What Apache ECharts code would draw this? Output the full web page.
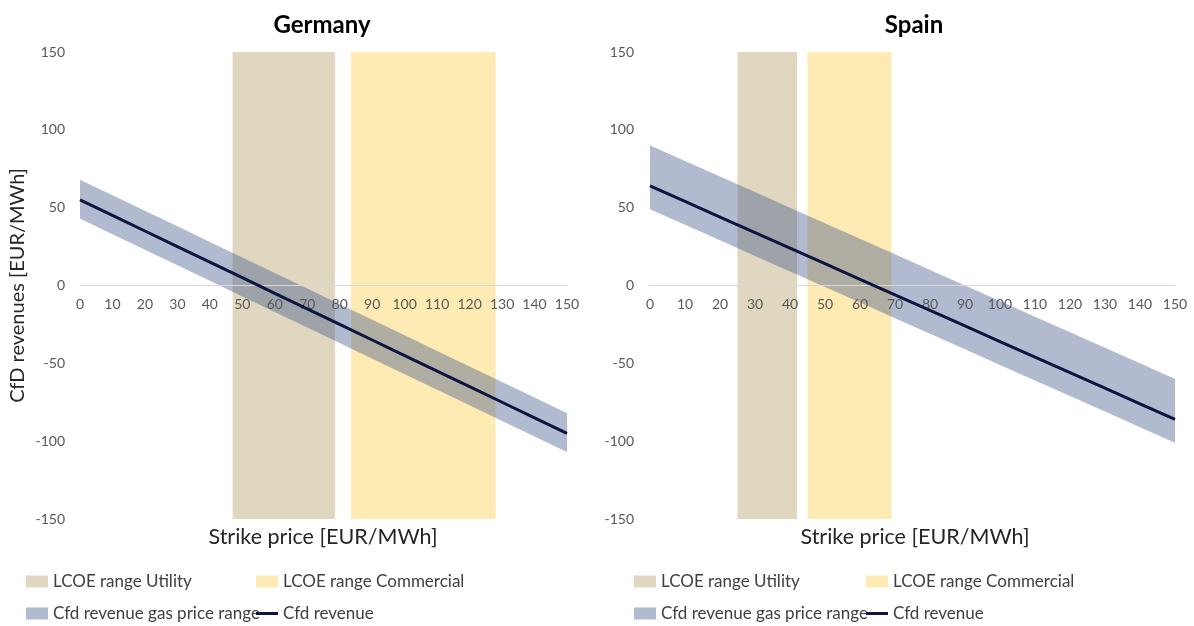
<!DOCTYPE html>
<html>
<head>
<meta charset="utf-8">
<script src="https://cdn.jsdelivr.net/npm/echarts@6/dist/echarts.min.js"></script>
<style>
  html, body { margin: 0; padding: 0; background: #ffffff; }
  #chart { width: 1194px; height: 626px; }
</style>
</head>
<body>
<div id="chart"></div>
<script>
// Strike prices (EUR/MWh) along the horizontal axis
const strikePrices = [0, 10, 20, 30, 40, 50, 60, 70, 80, 90, 100, 110, 120, 130, 140, 150];

// Germany: CfD revenue (EUR/MWh) and its gas-price range
const germanyRevenue     = [55, 45, 35, 25, 15, 5, -5, -15, -25, -35, -45, -55, -65, -75, -85, -95];
const germanyRevenueHigh = [68, 58, 48, 38, 28, 18, 8, -2, -12, -22, -32, -42, -52, -62, -72, -82];
const germanyRevenueLow  = [43, 33, 23, 13, 3, -7, -17, -27, -37, -47, -57, -67, -77, -87, -97, -107];

// Spain: CfD revenue (EUR/MWh) and its gas-price range
const spainRevenue     = [64, 54, 44, 34, 24, 14, 4, -6, -16, -26, -36, -46, -56, -66, -76, -86];
const spainRevenueHigh = [90, 80, 70, 60, 50, 40, 30, 20, 10, 0, -10, -20, -30, -40, -50, -60];
const spainRevenueLow  = [49, 39, 29, 19, 9, -1, -11, -21, -31, -41, -51, -61, -71, -81, -91, -101];

// LCOE ranges (strike price from / to)
const germanyUtilityRange    = [47, 78.5];
const germanyCommercialRange = [83.5, 128];
const spainUtilityRange      = [25, 42];
const spainCommercialRange   = [45, 69];

// Axis limits and tick steps
const xMin = 0, xMax = 150, xStep = 10;
const yMin = -150, yMax = 150, yStep = 50;

const panelTitles = ['Germany', 'Spain'];
const xAxisTitle = 'Strike price [EUR/MWh]';
const yAxisTitle = 'CfD revenues [EUR/MWh]';

const NAME_UTILITY = 'LCOE range Utility';
const NAME_COMMERCIAL = 'LCOE range Commercial';
const NAME_BAND = 'Cfd revenue gas price range';
const NAME_LINE = 'Cfd revenue';

const COLOR_UTILITY = '#dfd7c0';
const COLOR_COMMERCIAL = '#feebb3';
const COLOR_BAND = 'rgba(68, 90, 140, 0.42)';
const COLOR_LINE = '#0d1440';

const FONT = 'Lato, "Open Sans", sans-serif';

const GRID_TOP = 52, GRID_BOTTOM = 107, CHART_H = 626;
const grids = [
  { left: 80, right: 627, top: GRID_TOP, bottom: GRID_BOTTOM },
  { left: 650, right: 19, top: GRID_TOP, bottom: GRID_BOTTOM }
];
// Lift the strike-price axis from the bottom edge up to the zero line
const plotHeight = CHART_H - GRID_TOP - GRID_BOTTOM;
const zeroLift = plotHeight * (0 - yMin) / (yMax - yMin);

function xAxisFor(i) {
  return {
    type: 'value', gridIndex: i, min: xMin, max: xMax, interval: xStep,
    position: 'bottom', offset: -zeroLift,
    z: 2.5,
    axisLine: { onZero: false, lineStyle: { color: '#d9d9d9', width: 1 } },
    axisTick: { show: false },
    splitLine: { show: false },
    axisLabel: { color: '#595959', fontSize: 14, fontFamily: FONT, margin: 12 }
  };
}

function yAxisFor(i) {
  const axis = {
    type: 'value', gridIndex: i, min: yMin, max: yMax, interval: yStep,
    axisLine: { show: false },
    axisTick: { show: false },
    splitLine: { show: false },
    axisLabel: { color: '#595959', fontSize: 14, fontFamily: FONT, margin: i === 0 ? 15 : 16 }
  };
  if (i === 0) {
    axis.name = yAxisTitle;
    axis.nameLocation = 'middle';
    axis.nameRotate = 90;
    axis.nameGap = 52;
    axis.nameTextStyle = { color: '#262626', fontSize: 20, fontFamily: FONT };
  }
  return axis;
}

// Vertical shaded LCOE range spanning the full value axis
function lcoeSeries(i, name, range, color) {
  return {
    type: 'custom', name, xAxisIndex: i, yAxisIndex: i, z: 1,
    itemStyle: { color },
    data: [range],
    encode: { x: [0, 1] },
    renderItem(params, api) {
      const p0 = api.coord([api.value(0), yMax]);
      const p1 = api.coord([api.value(1), yMin]);
      return {
        type: 'rect',
        shape: { x: p0[0], y: p0[1], width: p1[0] - p0[0], height: p1[1] - p0[1] },
        style: { fill: color }
      };
    },
    silent: true
  };
}

// Filled band between the low and high revenue curves
function bandSeries(i, lows, highs) {
  return {
    type: 'custom', name: NAME_BAND, xAxisIndex: i, yAxisIndex: i, z: 2,
    itemStyle: { color: COLOR_BAND },
    data: strikePrices.map((s, k) => [s, lows[k], highs[k]]),
    encode: { x: 0, y: [1, 2] },
    renderItem(params, api) {
      if (params.dataIndex !== 0) return null;
      const pts = [];
      for (let k = 0; k < strikePrices.length; k++) pts.push(api.coord([strikePrices[k], highs[k]]));
      for (let k = strikePrices.length - 1; k >= 0; k--) pts.push(api.coord([strikePrices[k], lows[k]]));
      return { type: 'polygon', shape: { points: pts }, style: { fill: COLOR_BAND } };
    },
    silent: true
  };
}

function lineSeries(i, values) {
  return {
    type: 'line', name: NAME_LINE, xAxisIndex: i, yAxisIndex: i, z: 3,
    data: strikePrices.map((s, k) => [s, values[k]]),
    showSymbol: false, symbol: 'none',
    color: COLOR_LINE,
    lineStyle: { color: COLOR_LINE, width: 3 },
    silent: true
  };
}

function legendAt(name, left, top, isLine) {
  return {
    data: [{ name, icon: 'rect' }],
    left, top,
    padding: 0,
    itemWidth: 22, itemHeight: isLine ? 3 : 12,
    itemGap: 0,
    selectedMode: false,
    textStyle: { color: '#404040', fontSize: 17, fontFamily: FONT }
  };
}

const row1 = 573, row2 = 605;
const legends = [];
[[26, 256], [634, 866]].forEach(([a, b]) => {
  legends.push(legendAt(NAME_UTILITY, a, row1, false));
  legends.push(legendAt(NAME_COMMERCIAL, b, row1, false));
  legends.push(legendAt(NAME_BAND, a, row2, false));
  legends.push(legendAt(NAME_LINE, b, row2, true));
});

const panelCenters = [322, 914];
const graphics = [];
panelCenters.forEach((cx, i) => {
  graphics.push({
    type: 'text', x: cx, y: 25,
    style: { text: panelTitles[i], font: 'bold 24px ' + FONT, fill: '#000000', textAlign: 'center', textVerticalAlign: 'middle' }
  });
  graphics.push({
    type: 'text', x: cx + 1, y: 537,
    style: { text: xAxisTitle, font: '21.5px ' + FONT, fill: '#262626', textAlign: 'center', textVerticalAlign: 'middle' }
  });
});

const chart = echarts.init(document.getElementById('chart'), null, { renderer: 'canvas' });
chart.setOption({
  animation: false,
  backgroundColor: '#ffffff',
  grid: grids,
  xAxis: [xAxisFor(0), xAxisFor(1)],
  yAxis: [yAxisFor(0), yAxisFor(1)],
  legend: legends,
  graphic: graphics,
  series: [
    lcoeSeries(0, NAME_UTILITY, germanyUtilityRange, COLOR_UTILITY),
    lcoeSeries(0, NAME_COMMERCIAL, germanyCommercialRange, COLOR_COMMERCIAL),
    bandSeries(0, germanyRevenueLow, germanyRevenueHigh),
    lineSeries(0, germanyRevenue),
    lcoeSeries(1, NAME_UTILITY, spainUtilityRange, COLOR_UTILITY),
    lcoeSeries(1, NAME_COMMERCIAL, spainCommercialRange, COLOR_COMMERCIAL),
    bandSeries(1, spainRevenueLow, spainRevenueHigh),
    lineSeries(1, spainRevenue)
  ]
});
</script>
</body>
</html>
